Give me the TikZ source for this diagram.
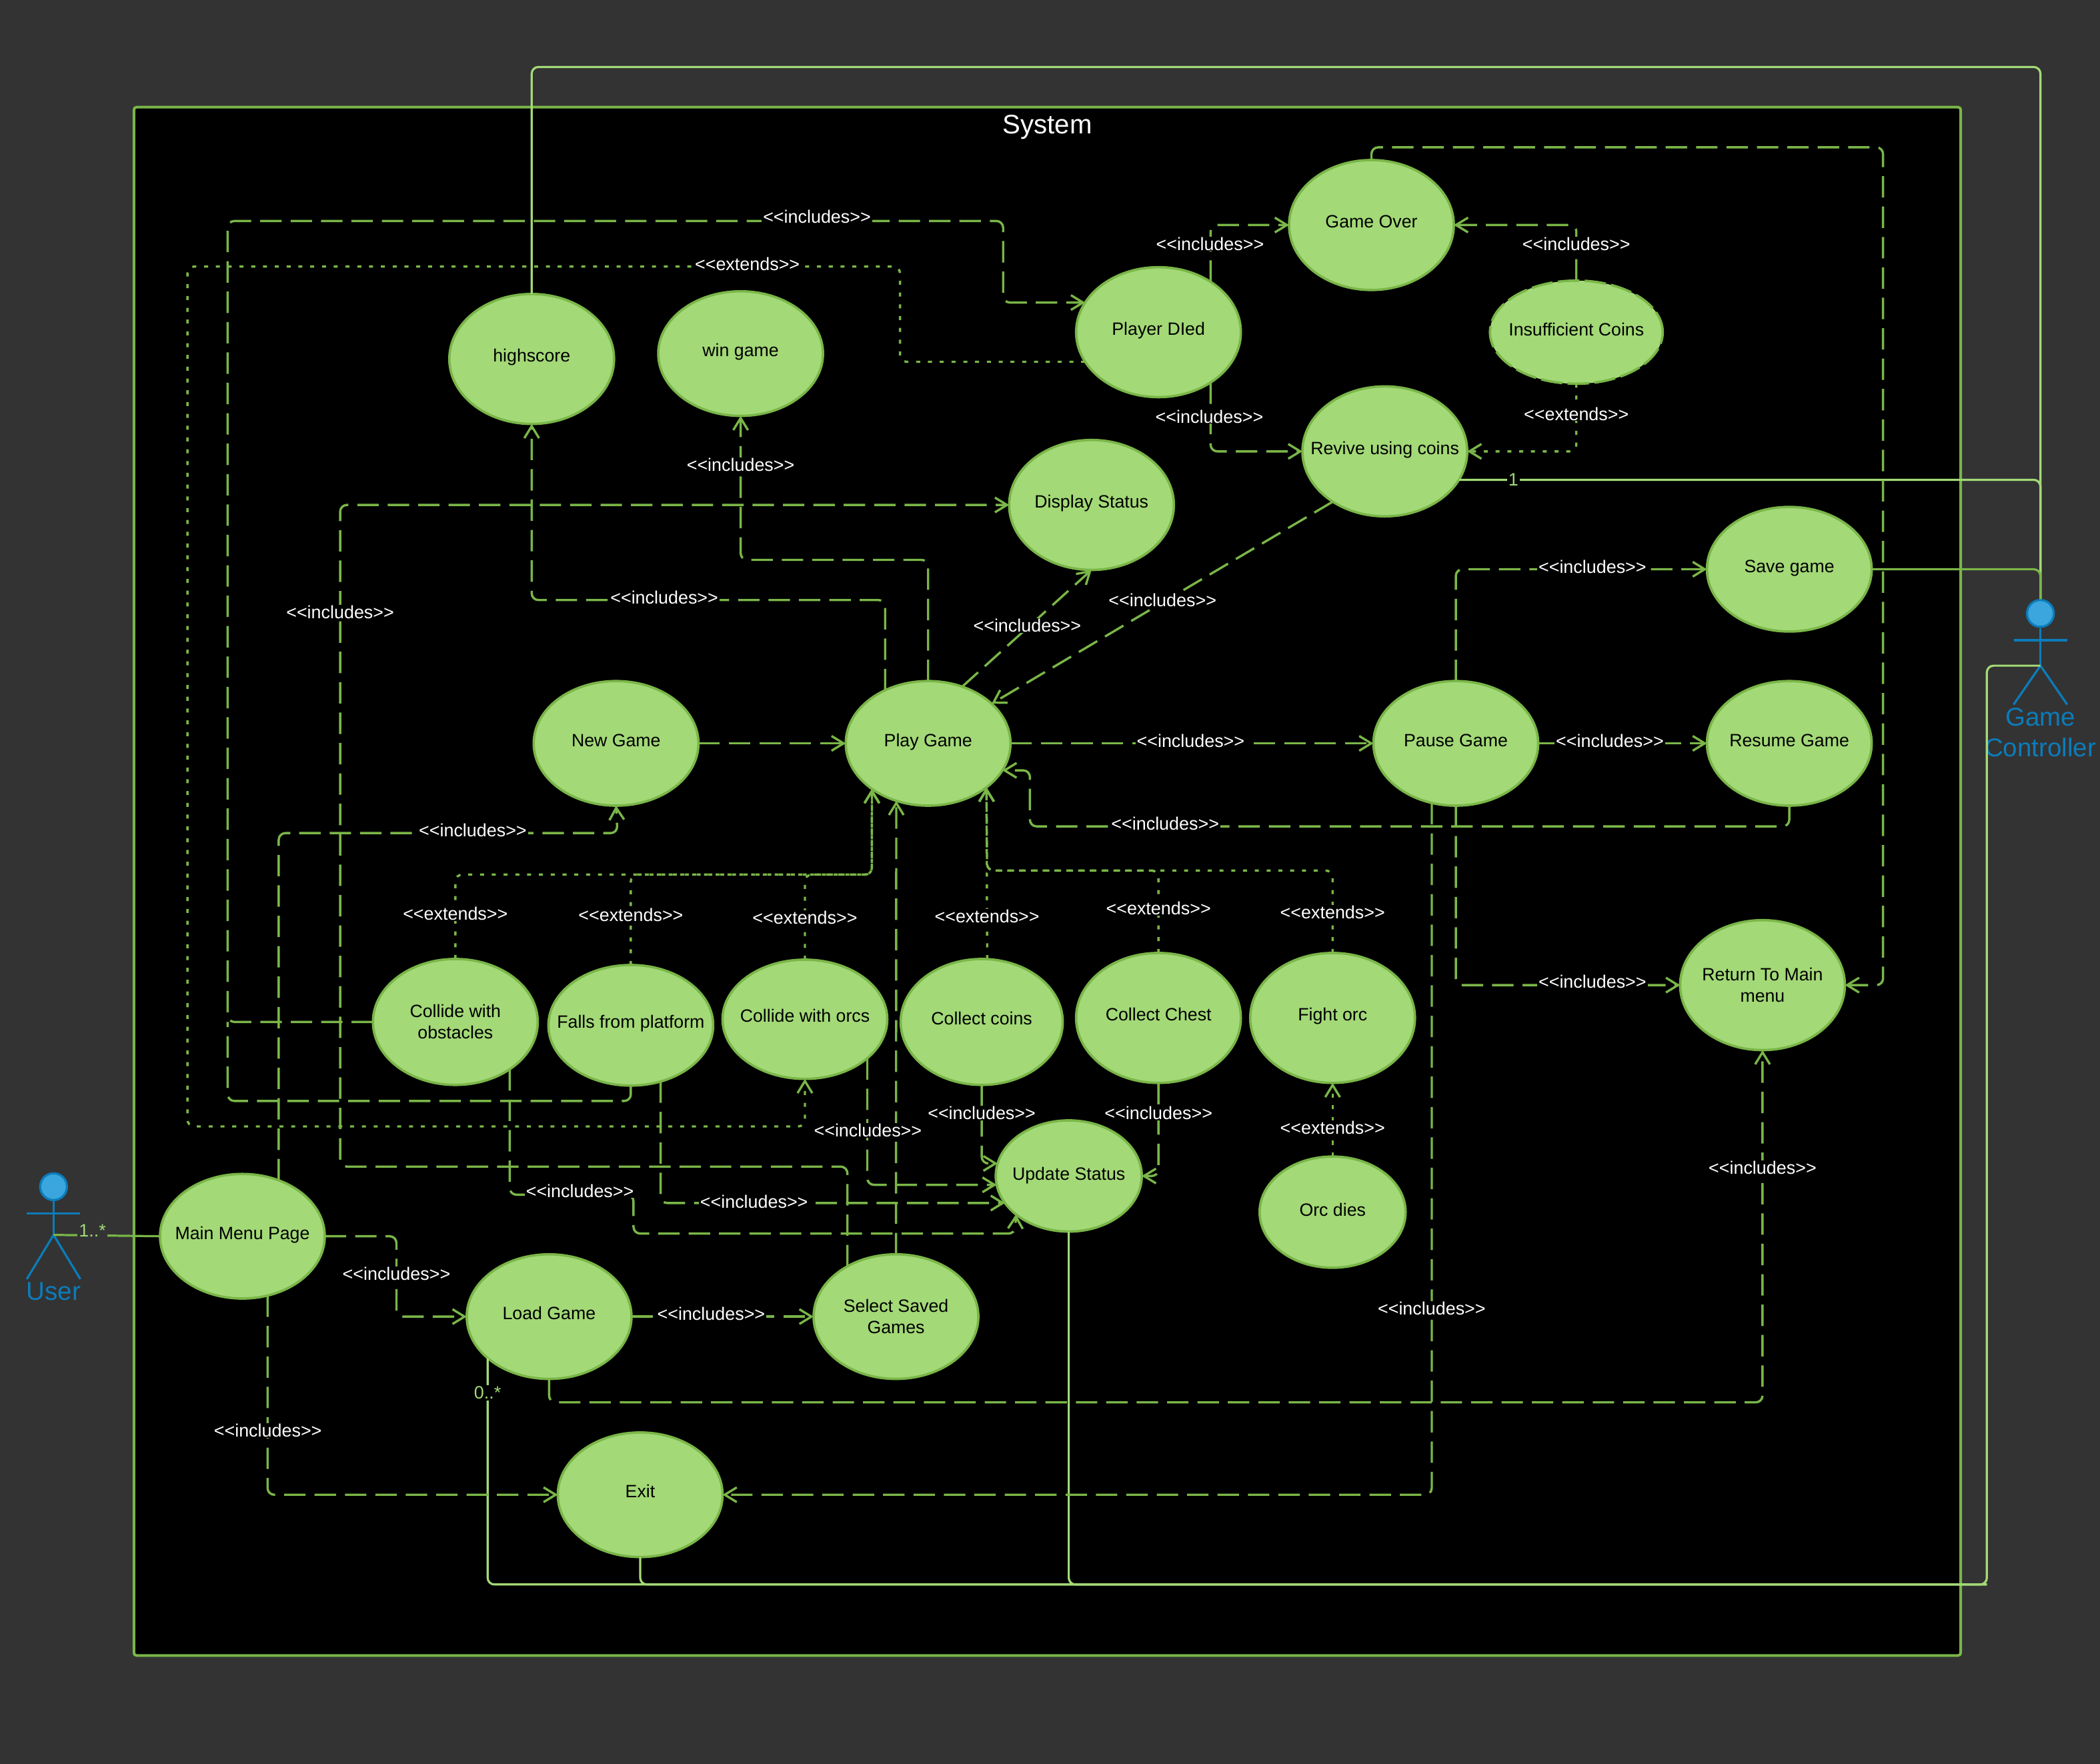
\documentclass[tikz,border=0pt]{standalone}
\usepackage{fontspec}
\setmainfont{Liberation Sans}
\usetikzlibrary{shapes.geometric, arrows.meta, positioning, backgrounds}
\definecolor{canvasGray}{HTML}{333333}
\definecolor{caseGreen}{HTML}{A3D977}
\definecolor{caseBorder}{HTML}{7AB648}
\definecolor{actorBlue}{HTML}{0C7CBA}
\definecolor{actorFill}{HTML}{3AA6DD}
\newcommand{\inclText}{<{}<includes>{}>}
\newcommand{\extText}{<{}<extends>{}>}
\tikzset{
    % Use case styles
    useCase/.style={
        ellipse,
        minimum width=123pt,
        minimum height=93pt,
        inner sep=-15pt,
        outer sep=0pt,
        align=center,
        font=\fontsize{13.3}{16}\selectfont,
        fill=caseGreen,
        draw=caseBorder,
        line width=1.8pt
    },
    oneLine/.style={useCase, text height=9.5pt, text depth=5pt},
    tallCase/.style={oneLine, minimum height=97pt},
    smallCase/.style={oneLine, minimum width=109pt, minimum height=83pt, text depth=3.3pt},
    % Connector styles
    includeArrow/.style={-{Straight Barb[length=9pt, width=11pt]}, draw=caseBorder, line width=1.7pt, rounded corners=5pt, dash pattern=on 16pt off 6.7pt},
    includeLine/.style={draw=caseBorder, line width=1.7pt, rounded corners=5pt, dash pattern=on 16pt off 6.7pt},
    extendArrow/.style={-{Straight Barb[length=9pt, width=11pt]}, draw=caseBorder, line width=1.7pt, rounded corners=5pt, dash pattern=on 3pt off 5.8pt},
    actorLink/.style={draw=caseGreen, line width=1.6pt, rounded corners=5pt},
    % Labels
    depLabel/.style={font=\fontsize{13.4}{16}\selectfont, text=white, fill=black, inner xsep=1pt, inner ysep=0.5pt},
    countLabel/.style={font=\fontsize{13.4}{16}\selectfont, text=caseGreen, fill=black, inner sep=1pt},
    actorLabel/.style={font=\fontsize{19.2}{23}\selectfont, text=actorBlue, align=center, inner sep=0pt},
    actorHead/.style={circle, minimum size=20pt, inner sep=0pt, fill=actorFill, draw=actorBlue, line width=1.6pt},
    actorBody/.style={draw=actorBlue, line width=1.6pt}
}
\begin{document}
\begin{tikzpicture}[x=1pt, y=-1pt]
    \useasboundingbox (0,0) rectangle (1568,1317);

    % --- TOP GROUP ---
    \node (highscore) [tallCase] at (397,268) {highscore};
    \node (winGame) [oneLine] at (553,264) {win game};
    \node (playerDied) [tallCase] at (865,248) {Player DIed};
    \node (gameOver) [tallCase] at (1024,168) {Game Over};
    \node (insufficientCoins) [oneLine, minimum width=129pt, minimum height=77pt, text depth=4pt, dash pattern=on 16pt off 4pt] at (1177,248) {Insufficient Coins};
    \node (reviveCoins) [tallCase] at (1034,337) {Revive using coins};
    \node (displayStatus) [tallCase] at (815,377) {Display Status};

    % --- MIDDLE ROW ---
    \node (playGame) [oneLine] at (693,555) {Play Game};
    \node (newGame) [oneLine, left=110pt of playGame] {New Game};
    \node (pauseGame) [oneLine, right=271pt of playGame] {Pause Game};
    \node (resumeGame) [oneLine, right=126pt of pauseGame] {Resume Game};
    \node (saveGame) [oneLine, above=37pt of resumeGame] {Save game};
    \node (returnMenu) [useCase, minimum height=97pt] at (1316,735.5) {Return To Main\\menu};

    % --- EVENT ROW ---
    \node (collideObstacles) [useCase, minimum height=94pt] at (340,763) {Collide with\\obstacles};
    \node (fallsPlatform) [oneLine, minimum height=90pt] at (471,765.5) {Falls from platform};
    \node (collideOrcs) [oneLine, minimum height=89pt] at (601,761) {Collide with orcs};
    \node (collectCoins) [oneLine, minimum width=121pt, minimum height=94pt] at (733,763) {Collect coins};
    \node (collectChest) [tallCase] at (865,760) {Collect Chest};
    \node (fightOrc) [tallCase] at (995,760) {Fight orc};
    \node (updateStatus) [smallCase] at (798,878) {Update Status};
    \node (orcDies) [smallCase] at (995,905) {Orc dies};

    % --- MENU GROUP ---
    \node (mainMenu) [oneLine] at (181,923) {Main Menu Page};
    \node (loadGame) [oneLine] at (410,983) {Load Game};
    \node (selectGames) [useCase] at (669,983) {Select Saved\\Games};
    \node (exitGame) [oneLine] at (478,1116) {Exit};

    % --- ACTORS ---
    \node (userHead) [actorHead] at (40,886) {};
    \coordinate (userHip) at (40,922);
    \draw [actorBody] (userHead.south) -- (userHip);
    \draw [actorBody] (20,906) -- (60,906);
    \draw [actorBody] (20,955) -- (userHip) -- (60,955);
    \node (userText) [actorLabel] at (40,964) {User};

    \node (controllerHead) [actorHead] at (1523.5,458) {};
    \coordinate (controllerHip) at (1523.5,497);
    \draw [actorBody] (controllerHead.south) -- (controllerHip);
    \draw [actorBody] (1503.5,478) -- (1543.5,478);
    \draw [actorBody] (1503.5,526) -- (controllerHip) -- (1543.5,526);
    \node (controllerText) [actorLabel] at (1523.5,547) {Game\\Controller};

    % --- Joins ---
    \coordinate (joinDied) at (170,763);
    \coordinate (joinController) at (1483.5,1183);

    % --- Actor links ---
    \draw [actorLink] (highscore.north) |- (1523.5,50) -- (controllerHead.north);
    \draw [actorLink] (reviveCoins.-21) -| (controllerHead.north);
    \draw [actorLink, draw=caseBorder] (saveGame.east) -| (controllerHead.north);
    \draw [actorLink, draw=caseBorder] (userHip) -- (mainMenu.west);
    \draw [actorLink] (loadGame.214.4) |- (joinController) |- (controllerHip);
    \draw [actorLink] (exitGame.south) |- (joinController);
    \draw [actorLink] (updateStatus.south) |- (joinController);

    % --- Includes, top ---
    \draw [includeArrow] (collideObstacles.west) -| (170,165) -- (749,165) |- (playerDied.158);
    \draw [includeLine] (fallsPlatform.south) |- (170,822) -- (joinDied);
    \draw [includeArrow] (playerDied.44) |- (gameOver.west);
    \draw [includeArrow] (insufficientCoins.north) |- (gameOver.east);
    \draw [includeArrow] (playerDied.-44) |- (reviveCoins.west);
    \draw [includeArrow] (gameOver.north) |- (1406,110) |- (returnMenu.east);
    \draw [includeArrow] (playGame.129.7) |- (397,448) -- (highscore.south);
    \draw [includeArrow] (playGame.north) |- (553,418) -- (winGame.south);
    \draw [includeArrow] (playGame.59.8) -- (displayStatus.south);
    \draw [includeArrow] (reviveCoins.224) -- (playGame.32.3);
    \draw [includeArrow] (selectGames.134.5) |- (254,871) |- (displayStatus.west);

    % --- Includes, middle ---
    \draw [includeArrow] (mainMenu.57.4) |- (461,622) -- (newGame.south);
    \draw [includeArrow] (newGame.east) -- (playGame.west);
    \draw [includeArrow] (playGame.east) -- (pauseGame.west);
    \draw [includeArrow] (pauseGame.east) -- (resumeGame.west);
    \draw [includeArrow] (pauseGame.north) |- (saveGame.west);
    \draw [includeArrow] (pauseGame.south) |- (returnMenu.west);
    \draw [includeArrow] (pauseGame.248.2) |- (exitGame.east);
    \draw [includeArrow] (resumeGame.south) |- (769,617) |- (playGame.-20.7);
    \draw [includeArrow] (selectGames.north) -- (playGame.-119);

    % --- Includes, towards Update Status ---
    \draw [includeArrow] (collectCoins.south) |- (updateStatus.170);
    \draw [includeArrow] (collectChest.south) |- (updateStatus.east);
    \draw [includeArrow] (collideOrcs.-32) |- (updateStatus.187);
    \draw [includeArrow] (fallsPlatform.-62.6) |- (updateStatus.203.6);
    \draw [includeArrow] (collideObstacles.-41) |- (473,892) |- (758,921) -- (updateStatus.216);

    % --- Includes, menu ---
    \draw [includeArrow] (mainMenu.east) -| (296,983) -- (loadGame.west);
    \draw [includeArrow] (mainMenu.-67) |- (exitGame.west);
    \draw [includeArrow] (loadGame.east) -- (selectGames.west);
    \draw [includeArrow] (loadGame.south) |- (1316,1047) -- (returnMenu.south);

    % --- Extends ---
    \draw [extendArrow] (playerDied.202.3) -| (672,199) -| (140,841) -| (collideOrcs.south);
    \draw [extendArrow] (insufficientCoins.south) |- (reviveCoins.east);
    \draw [extendArrow] (collideObstacles.north) |- (651,653) -- (playGame.219.5);
    \draw [extendArrow] (fallsPlatform.north) |- (651,653) -- (playGame.219.5);
    \draw [extendArrow] (collideOrcs.north) |- (651,653) -- (playGame.219.5);
    \draw [extendArrow] (collectCoins.85) -- (playGame.-37);
    \draw [extendArrow] (collectChest.north) |- (737,650) -- (playGame.-37);
    \draw [extendArrow] (fightOrc.north) |- (737,650) -- (playGame.-37);
    \draw [extendArrow] (orcDies.north) -- (fightOrc.south);

    % --- Labels ---
    \node (lblDied) [depLabel] at (610,162) {\inclText};
    \node (lblOver) [depLabel] at (903.5,182) {\inclText};
    \node (lblCoinsOver) [depLabel] at (1177,182) {\inclText};
    \node (lblRevive) [depLabel] at (903,311) {\inclText};
    \node (lblCoinsRevive) [depLabel] at (1177,309) {\extText};
    \node (lblOrcs) [depLabel] at (558,197) {\extText};
    \node (lblWin) [depLabel] at (553,347) {\inclText};
    \node (lblHigh) [depLabel] at (496,446) {\inclText};
    \node (lblDisplay) [depLabel] at (767,467) {\inclText};
    \node (lblPlayRevive) [depLabel] at (868,448) {\inclText};
    \node (lblSelect) [depLabel] at (254,457) {\inclText};
    \node (lblSave) [depLabel] at (1189,423) {\inclText};
    \node (lblPause) [depLabel] at (889,553) {\inclText};
    \node (lblResume) [depLabel] at (1202,553) {\inclText};
    \node (lblBack) [depLabel] at (870,615) {\inclText};
    \node (lblNew) [depLabel] at (353,620) {\inclText};
    \node (lblReturn) [depLabel] at (1189,733) {\inclText};
    \node (lblExtObst) [depLabel] at (340,682) {\extText};
    \node (lblExtFalls) [depLabel] at (471,683) {\extText};
    \node (lblExtOrcs) [depLabel] at (601,685) {\extText};
    \node (lblExtCoins) [depLabel] at (737,684) {\extText};
    \node (lblExtChest) [depLabel] at (865,678) {\extText};
    \node (lblExtFight) [depLabel] at (995,681) {\extText};
    \node (lblCoins) [depLabel] at (733,831) {\inclText};
    \node (lblChest) [depLabel] at (865,831) {\inclText};
    \node (lblExtDies) [depLabel] at (995,842) {\extText};
    \node (lblOrcsUp) [depLabel] at (648,844) {\inclText};
    \node (lblMenuReturn) [depLabel] at (1316,872) {\inclText};
    \node (lblObstUp) [depLabel] at (433,889) {\inclText};
    \node (lblFallsUp) [depLabel] at (563,897) {\inclText};
    \node (lblLoad) [depLabel] at (296,951) {\inclText};
    \node (lblLoadSel) [depLabel] at (531,981) {\inclText};
    \node (lblPauseExit) [depLabel] at (1069,977) {\inclText};
    \node (lblMenuExit) [depLabel] at (200,1068) {\inclText};
    \node (lblUserMany) [countLabel, fill=canvasGray] at (69,919) {1..*};
    \node (lblLoadMany) [countLabel] at (364,1040) {0..*};
    \node (lblReviveOne) [countLabel] at (1130,358) {1};

    % --- Background ---
    \begin{scope}[on background layer]
        \fill [canvasGray] (0,0) rectangle (1568,1317);
        \draw [fill=black, draw=caseBorder, line width=2pt, rounded corners=2pt] (100,80) rectangle (1464,1236);
        \node (systemTitle) [font=\fontsize{20}{23}\selectfont, text=white] at (782,95) {System};
    \end{scope}

\end{tikzpicture}
\end{document}
